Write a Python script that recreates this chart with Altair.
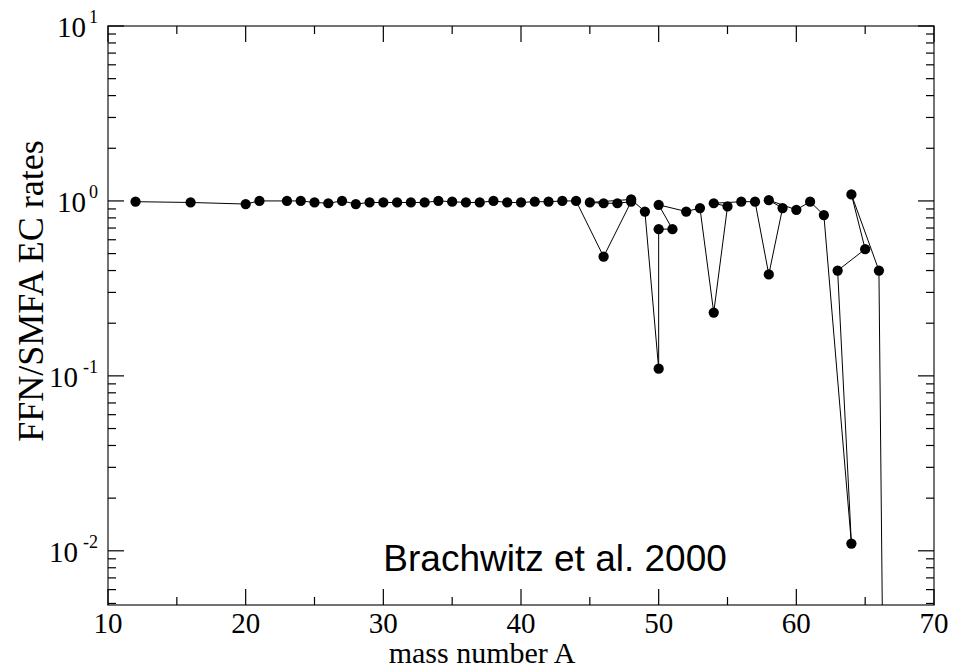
import altair as alt
import pandas as pd

# ---- data ----
mass_A = [12, 16, 20, 21, 23, 24, 25, 26, 27, 28, 29, 30, 31, 32, 33, 34, 35, 36, 37, 38,
          39, 40, 41, 42, 43, 44, 46, 48, 47, 46, 45, 48, 49, 50, 50, 51, 50, 52, 53, 54,
          55, 54, 56, 57, 58, 59, 58, 60, 61, 62, 64, 63, 65, 64, 66, 67]
ratio = [0.99, 0.98, 0.96, 1.0, 1.0, 1.0, 0.98, 0.97, 1.0, 0.96, 0.98, 0.98, 0.98, 0.98, 0.98,
         1.0, 0.99, 0.98, 0.98, 1.0, 0.98, 0.98, 0.99, 0.99, 1.0, 1.0, 0.48, 0.99, 0.97, 0.97,
         0.98, 1.02, 0.87, 0.11, 0.69, 0.69, 0.95, 0.87, 0.91, 0.23, 0.93, 0.97, 0.99, 0.99,
         0.38, 0.91, 1.01, 0.89, 0.99, 0.83, 0.011, 0.40, 0.53, 1.09, 0.40, 5e-9]

x_major = [10, 20, 30, 40, 50, 60, 70]
x_minor = [15, 25, 35, 45, 55, 65]
y_major = [0.01, 0.1, 1, 10]
y_exp = ["-2", "-1", "0", "1"]
y_minor = [m * 10.0 ** e for e in (-3, -2, -1, 0) for m in range(2, 10)
           if 0.0049 <= m * 10.0 ** e <= 10]
annotation = ["Brachwitz et al. 2000"]
annot_x = [30]
annot_y = [0.0089]

W, H = 826, 579
SERIF = "Liberation Serif"

xs = alt.Scale(domain=[10, 70], nice=False, zero=False)
ys = alt.Scale(type="log", domain=[0.0049, 10], nice=False)

df = pd.DataFrame({"A": mass_A, "r": ratio, "i": list(range(len(mass_A)))})

line = alt.Chart(df).mark_line(color="black", strokeWidth=1, clip=True).encode(
    x=alt.X("A:Q", scale=xs, axis=None),
    y=alt.Y("r:Q", scale=ys, axis=None),
    order=alt.Order("i:Q"),
)
pts = alt.Chart(df).mark_circle(color="black", size=105, opacity=1, clip=True).encode(
    x=alt.X("A:Q", scale=xs, axis=None),
    y=alt.Y("r:Q", scale=ys, axis=None),
)

def xticks(vals, y0, y1):
    return alt.Chart(pd.DataFrame({"v": vals})).mark_rule(color="black", strokeWidth=1.2).encode(
        x=alt.X("v:Q", scale=xs, axis=None), y=alt.value(y0), y2=alt.value(y1))

def yticks(vals, x0, x1):
    return alt.Chart(pd.DataFrame({"v": vals})).mark_rule(color="black", strokeWidth=1.2).encode(
        y=alt.Y("v:Q", scale=ys, axis=None), x=alt.value(x0), x2=alt.value(x1))

ticks = [
    xticks(x_major, H, H - 16), xticks(x_major, 0, 16),
    xticks(x_minor, H, H - 8), xticks(x_minor, 0, 8),
    yticks(y_major, 0, 16), yticks(y_major, W, W - 16),
    yticks(y_minor, 0, 8), yticks(y_minor, W, W - 8),
]

xlab = alt.Chart(pd.DataFrame({"v": x_major, "t": [str(v) for v in x_major]})).mark_text(
    font=SERIF, fontSize=29, baseline="middle", align="center", color="black").encode(
    x=alt.X("v:Q", scale=xs, axis=None), y=alt.value(H + 19), text="t:N")

ydf = pd.DataFrame({"v": y_major, "e": y_exp})
ydf["n"] = ydf["e"].str.len()
ylab_layers = []
for n, ew in ((1, 12), (2, 20)):
    sub = ydf[ydf["n"] == n]
    ylab_layers.append(alt.Chart(sub).mark_text(
        font=SERIF, fontSize=29, baseline="middle", align="right", color="black", dy=2).encode(
        y=alt.Y("v:Q", scale=ys, axis=None), x=alt.value(-10 - ew), text=alt.Text("t:N")
    ).transform_calculate(t="'10'"))
    ylab_layers.append(alt.Chart(sub).mark_text(
        font=SERIF, fontSize=18, baseline="middle", align="right", color="black", dy=-8).encode(
        y=alt.Y("v:Q", scale=ys, axis=None), x=alt.value(-10), text="e:N"))

xtitle = alt.Chart(pd.DataFrame({"t": ["mass number A"]})).mark_text(
    font=SERIF, fontSize=30, baseline="middle", align="center", color="black").encode(
    x=alt.value(374), y=alt.value(H + 49), text="t:N")
ytitle = alt.Chart(pd.DataFrame({"t": ["FFN/SMFA EC rates"]})).mark_text(
    font=SERIF, fontSize=36, baseline="middle", align="center", angle=270, color="black").encode(
    x=alt.value(-76), y=alt.value(265), text="t:N")

annot = alt.Chart(pd.DataFrame({"t": annotation, "x": annot_x, "y": annot_y})).mark_text(
    font="Liberation Sans", fontSize=37, baseline="middle", align="left", color="black").encode(
    x=alt.X("x:Q", scale=xs, axis=None), y=alt.Y("y:Q", scale=ys, axis=None), text="t:N")

chart = alt.layer(line, pts, *ticks, xlab, *ylab_layers, xtitle, ytitle, annot).properties(
    width=W, height=H,
    autosize=alt.AutoSizeParams(type="none"),
    padding={"left": 100, "top": 18, "right": 23, "bottom": 66},
).configure_view(stroke="#444", strokeWidth=1.5)

chart.save("out.html", embed_options={"renderer": "svg", "actions": False})
